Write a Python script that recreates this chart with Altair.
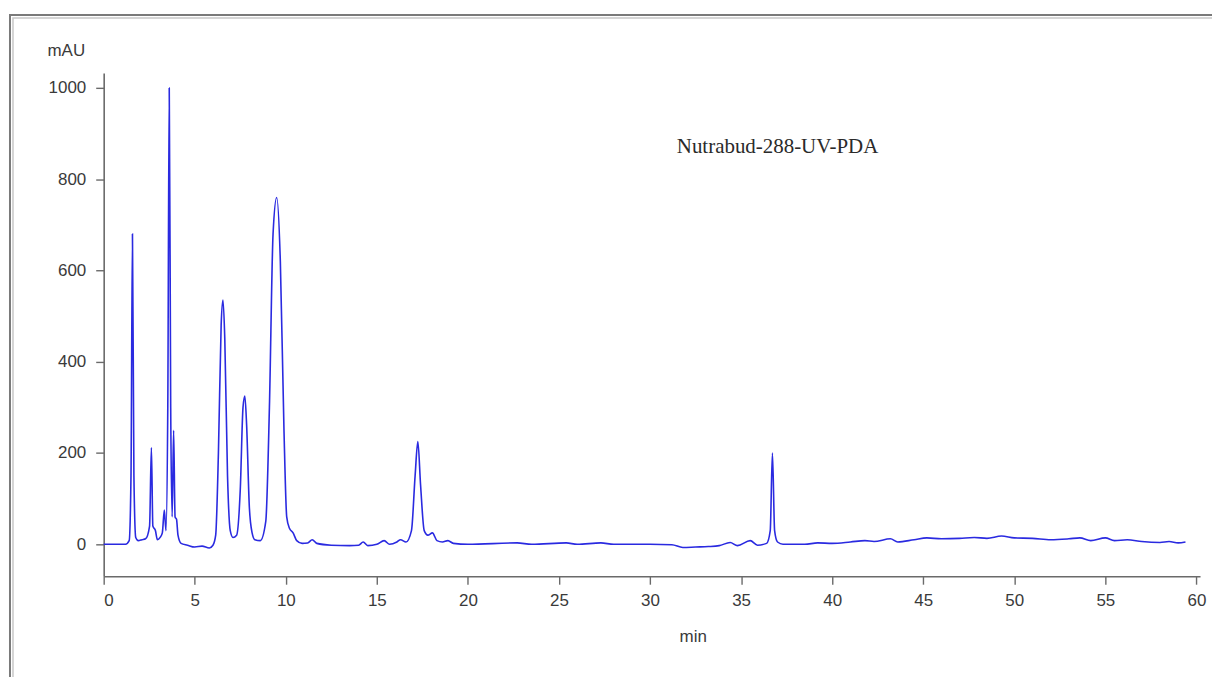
import altair as alt
import pandas as pd

# Retention time (min) and absorbance (mAU)
time_min = [
    0.0, 1.2, 1.40, 1.50, 1.58, 1.66, 1.76, 1.9, 2.1, 2.30, 2.52, 2.62, 2.70, 2.84, 2.95,
    3.10, 3.22, 3.33, 3.42, 3.52, 3.60, 3.68, 3.76, 3.84, 3.92, 4.00, 4.08, 4.25, 4.6,
    5.0, 5.4, 5.8, 6.0, 6.15, 6.30, 6.45, 6.55, 6.65, 6.80, 6.95, 7.1, 7.3, 7.5, 7.65,
    7.75, 7.85, 8.0, 8.15, 8.3, 8.6, 8.9, 9.1, 9.3, 9.5, 9.7, 9.9, 10.05, 10.2, 10.4,
    10.6, 10.9, 11.2, 11.45, 11.7, 12.5, 13.5, 14.0, 14.25, 14.5, 15.0, 15.4, 15.7, 16.1,
    16.3, 16.6, 16.9, 17.1, 17.25, 17.4, 17.6, 17.8, 18.05, 18.3, 18.6, 18.9, 19.2, 20.0,
    22.7, 23.5, 25.4, 26.0, 27.3, 28.0, 30.0, 31.2, 31.8, 32.5, 33.2, 33.8, 34.4, 34.8,
    35.5, 35.9, 36.4, 36.6, 36.72, 36.84, 37.0, 37.3, 38.5, 39.2, 40.0, 41.0, 41.8, 42.3,
    43.2, 43.6, 44.5, 45.2, 46.0, 47.0, 47.8, 48.5, 49.3, 50.0, 51.0, 52.0, 53.0, 53.6,
    54.2, 55.0, 55.5, 56.2, 57.0, 58.0, 58.5, 59.0, 59.4,
]
absorbance_mau = [
    0, 0, 8, 150, 680, 150, 15, 8, 10, 12, 40, 212, 40, 30, 10,
    15, 25, 75, 30, 300, 1000, 300, 60, 250, 60, 55, 20, 2, -2,
    -6, -4, -8, -2, 20, 200, 480, 535, 450, 150, 30, 15, 20, 120, 300,
    325, 260, 80, 25, 10, 8, 50, 300, 680, 760, 620, 250, 60, 35, 25,
    8, 2, 3, 10, 2, -2, -3, -2, 5, -3, 0, 8, 0, 5,
    10, 5, 30, 150, 225, 130, 30, 20, 25, 8, 5, 8, 2, 0,
    3, 0, 3, 0, 3, 0, 0, -1, -7, -6, -5, -3, 4, -3,
    8, -2, 2, 30, 200, 30, 5, 0, 0, 3, 2, 5, 8, 6,
    12, 5, 10, 14, 12, 13, 15, 13, 18, 14, 13, 10, 12, 14,
    8, 14, 8, 10, 6, 4, 6, 3, 5,
]

x_ticks = [0, 5, 10, 15, 20, 25, 30, 35, 40, 45, 50, 55, 60]
y_ticks = [0, 200, 400, 600, 800, 1000]
x_domain = [0, 60.2]
y_domain = [-70, 1033]

label_text = ["Nutrabud-288-UV-PDA"]
label_x = [37.0]
label_y = [870]

trace = pd.DataFrame({"t": time_min, "mAU": absorbance_mau})
note = pd.DataFrame({"t": label_x, "mAU": label_y, "txt": label_text})

axis_common = dict(
    domainColor="#6a6a6a", domainWidth=1.6, tickColor="#6a6a6a", tickWidth=1.4,
    tickSize=8, labelFont="Liberation Sans", labelFontSize=17, labelColor="#3a3a3a",
    grid=False, titleFont="Liberation Sans", titleFontSize=17, titleColor="#3a3a3a",
    titleFontWeight="normal", format="d",
)

line = alt.Chart(trace).mark_line(color="#2a2ae0", strokeWidth=1.6, interpolate="monotone").encode(
    x=alt.X("t:Q", scale=alt.Scale(domain=x_domain, nice=False, zero=False),
            axis=alt.Axis(values=x_ticks, title="min", labelPadding=8,
                          titleX=591, titleY=52, titleAnchor="start", titleAlign="center",
                          **axis_common)),
    y=alt.Y("mAU:Q", scale=alt.Scale(domain=y_domain, nice=False, zero=False),
            axis=alt.Axis(values=y_ticks, title="mAU", labelPadding=10,
                          titleAngle=0, titleX=-38, titleY=-22, titleAlign="center",
                          titleBaseline="middle", **axis_common)),
)

text = alt.Chart(note).mark_text(font="Liberation Serif", fontSize=21, color="#2a2a2a",
                                 align="center", baseline="middle").encode(
    x="t:Q", y="mAU:Q", text="txt:N")

frame_src = pd.DataFrame({"k": [0]})
frame_outer = alt.Chart(frame_src).mark_rect(fill="transparent", stroke="#7a7a7a", strokeWidth=2).encode(
    x=alt.value(-94), x2=alt.value(1150), y=alt.value(-58), y2=alt.value(720))
frame_inner = alt.Chart(frame_src).mark_rect(fill="transparent", stroke="#c8c8c8", strokeWidth=1.5).encode(
    x=alt.value(-91), x2=alt.value(1150), y=alt.value(-55), y2=alt.value(720))

chart = alt.layer(frame_outer, frame_inner, line, text).properties(
    width=1100, height=505,
    padding={"left": 96, "top": 64, "right": 12, "bottom": 100},
    autosize=alt.AutoSizeParams(type="none"),
).configure(
    background="white",
    view=alt.ViewConfig(strokeWidth=0, stroke="transparent"),
)

chart.save("out.html", embed_options={"renderer": "svg", "actions": False})
